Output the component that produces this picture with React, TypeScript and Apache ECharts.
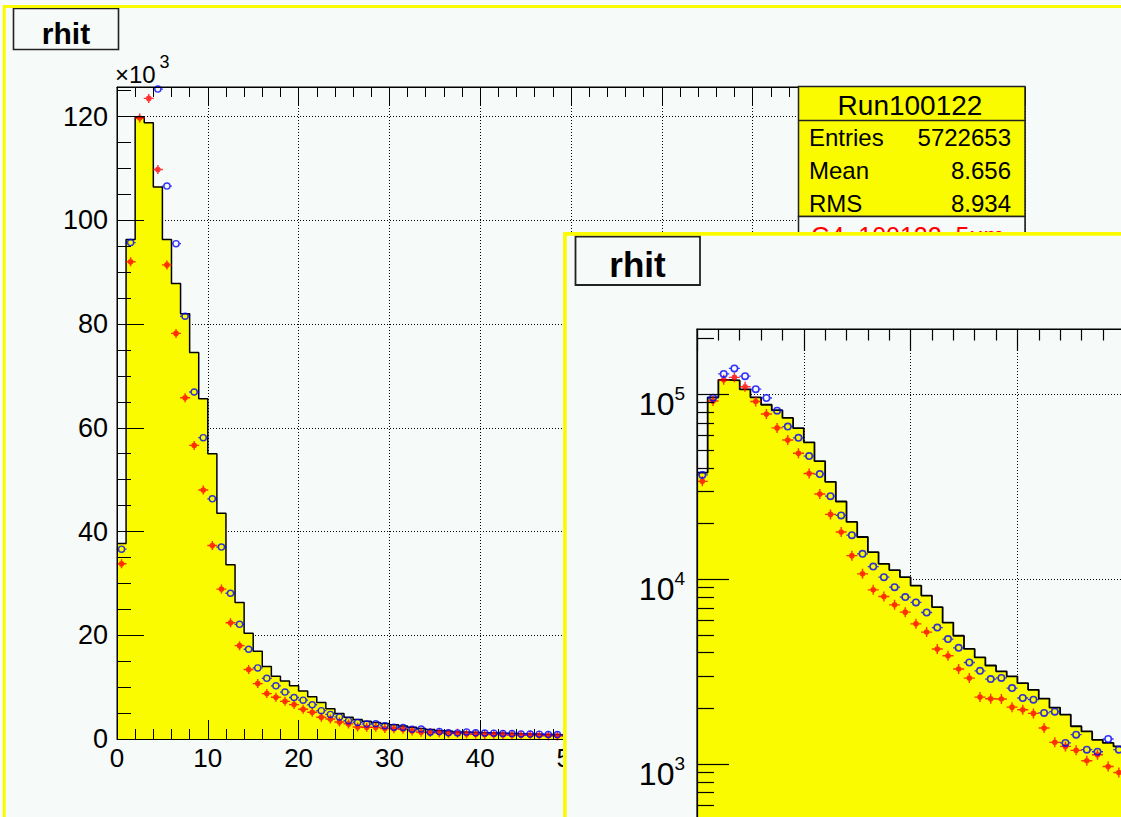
import React, { useEffect, useRef } from "react";
import * as echarts from "echarts";

// ---------- data (bins of width 1, starting at 0) ----------
const histCounts = [
  37700, 96300, 119800, 118800, 106400, 96300, 87800, 82000, 74500, 65600,
  55000, 43500, 33600, 26300, 20400, 16900, 14000, 12100, 11200, 10250,
  9230, 8150, 7060, 5820, 4940, 4190, 3770, 3410, 3170, 2980,
  2740, 2520, 2260, 2020, 1850, 1600, 1500, 1350, 1300, 1245,
  1190, 1140, 1090, 1040, 990, 950, 900, 860, 820, 780,
];
const g4RedCounts = [
  33800, 92000, 119700, 123500, 109800, 91400, 78200, 65800, 56600, 48000,
  37300, 28900, 22400, 18000, 13400, 10680, 8750, 8050, 7260, 6630,
  5730, 5170, 4190, 3850, 3265, 2915, 2300, 2253, 2245, 2030,
  1966, 1878, 1566, 1309, 1245, 1185, 1042, 1122, 970, 900,
  880, 850, 800, 780, 720, 700, 660, 640, 600, 580,
];
const g4BlueCounts = [
  36600, 95700, 128800, 138000, 125300, 106600, 95500, 81500, 66900, 58100,
  46300, 37000, 28100, 22100, 17300, 13700, 11700, 10250, 9050, 8000,
  7480, 6600, 5470, 4740, 4250, 3540, 3190, 2880, 2920, 2575,
  2275, 2227, 1888, 1918, 1300, 1440, 1195, 1165, 1365, 1195,
  1150, 1120, 1060, 1050, 980, 940, 930, 870, 860, 800,
];
const xMin = 0;
const xMax = 100;
const xInterval = 10;
const xLabelVisibleMax = 50; // labels further right sit under the inset canvas
const yLinMax = 125700;
const yLinInterval = 20000;
const yLogMin = 10;
const yLogMax = 225500;
const logMajorValues = [10, 100, 1000, 10000, 100000];
const logLabelValues = [1000, 10000, 100000];
const logMinorMultipliers = [2, 3, 4, 5, 6, 7, 8, 9];
const titleText = "rhit";
const statsTitle = "Run100122";
const statsRows = [
  ["Entries", "5722653"],
  ["Mean", "8.656"],
  ["RMS", "8.934"],
];
const legendLabel = "G4_100122_5um";

// ---------- style ----------
const FONT = '"Liberation Sans", Arimo, Helvetica, Arial, sans-serif';
const BG = "#f6faf8";
const YELLOW = "#fbfb00";
const RED = "#ff0000";
const BLUE = "#0000ff";
const DOT = { color: "#000", width: 1, type: [1, 2] as any };

const histData = () => {
  const d: number[][] = histCounts.map((v, i) => [i, v]);
  d.push([histCounts.length, histCounts[histCounts.length - 1]]);
  return d;
};
const pointData = (arr: number[]) => arr.map((v, i) => [i + 0.5, v]);

function crossPath(w: number, h: number, r: number, t: number) {
  const cx = w / 2, cy = h / 2;
  return (
    `path://M0 ${cy - t / 2} L${w} ${cy - t / 2} L${w} ${cy + t / 2} L0 ${cy + t / 2} Z ` +
    `M${cx - t / 2} 0 L${cx + t / 2} 0 L${cx + t / 2} ${h} L${cx - t / 2} ${h} Z ` +
    `M${cx - r} ${cy} A${r} ${r} 0 1 1 ${cx + r} ${cy} A${r} ${r} 0 1 1 ${cx - r} ${cy} Z`
  );
}
function ringPath(w: number, d: number, t: number, a: number) {
  const cx = w / 2, cy = d / 2, R = d / 2, r = d / 2 - t;
  return (
    `path://M${cx - R} ${cy} A${R} ${R} 0 1 1 ${cx + R} ${cy} A${R} ${R} 0 1 1 ${cx - R} ${cy} Z ` +
    `M${cx - r} ${cy} A${r} ${r} 0 1 0 ${cx + r} ${cy} A${r} ${r} 0 1 0 ${cx - r} ${cy} Z ` +
    `M0 ${cy - a / 2} L${cx - R + 0.4} ${cy - a / 2} L${cx - R + 0.4} ${cy + a / 2} L0 ${cy + a / 2} Z ` +
    `M${cx + R - 0.4} ${cy - a / 2} L${w} ${cy - a / 2} L${w} ${cy + a / 2} L${cx + R - 0.4} ${cy + a / 2} Z`
  );
}

function txt(text: string, x: number, y: number, font: string, fill: string, align = "left", z = 60) {
  return {
    type: "text",
    x,
    y,
    z,
    silent: true,
    style: {
      text,
      font,
      fill,
      align,
      textAlign: align,
      verticalAlign: "middle",
      textVerticalAlign: "middle",
    },
  };
}

function seriesList(redSize: number[], blueSize: number[], lineW: number, ringT: number) {
  return [
    {
      type: "line",
      xAxisIndex: 0,
      yAxisIndex: 0,
      data: histData(),
      step: "end",
      symbol: "none",
      silent: true,
      z: 2,
      lineStyle: { color: "#000", width: lineW },
      areaStyle: { color: YELLOW, opacity: 1, origin: "start" },
    },
    {
      type: "scatter",
      name: "G4 red",
      xAxisIndex: 0,
      yAxisIndex: 0,
      data: pointData(g4RedCounts),
      symbol: crossPath(redSize[0], redSize[1], 2.8, 1.4),
      symbolSize: redSize,
      itemStyle: { color: RED },
      z: 3,
    },
    {
      type: "scatter",
      name: "G4 blue",
      xAxisIndex: 0,
      yAxisIndex: 0,
      data: pointData(g4BlueCounts),
      symbol: ringPath(blueSize[0], blueSize[1], ringT, 1.3),
      symbolSize: blueSize,
      itemStyle: { color: BLUE },
      z: 4,
    },
  ];
}

function mainOption() {
  const xBase = { type: "value", gridIndex: 0, min: xMin, max: xMax, interval: xInterval };
  const yBase = { type: "value", gridIndex: 0, min: 0, max: yLinMax, interval: yLinInterval };
  const tickLine = { color: "#000", width: 1 };
  return {
    animation: false,
    backgroundColor: BG,
    textStyle: { fontFamily: FONT },
    grid: [{ left: 117, top: 87, width: 908, height: 652, show: true, borderColor: "#000", borderWidth: 1, backgroundColor: "transparent" }],
    xAxis: [
      { ...xBase, z: 0, position: "bottom", axisLine: { show: false }, axisTick: { show: false }, axisLabel: { show: false }, splitLine: { show: true, lineStyle: DOT } },
      {
        ...xBase, z: 10, position: "bottom",
        axisLine: { show: true, onZero: false, lineStyle: tickLine },
        axisTick: { show: true, inside: true, length: 19, lineStyle: tickLine },
        minorTick: { show: true, splitNumber: 5, length: 10, lineStyle: tickLine },
        axisLabel: {
          show: true, fontSize: 26, color: "#000", fontFamily: FONT, margin: 6,
          formatter: (v: number) => (v <= xLabelVisibleMax ? String(v) : ""),
        },
        splitLine: { show: false },
      },
      {
        ...xBase, z: 10, position: "top",
        axisLine: { show: true, onZero: false, lineStyle: tickLine },
        axisTick: { show: true, inside: true, length: 19, lineStyle: tickLine },
        minorTick: { show: true, splitNumber: 5, length: 10, lineStyle: tickLine },
        axisLabel: { show: false },
        splitLine: { show: false },
      },
    ],
    yAxis: [
      { ...yBase, z: 0, position: "left", axisLine: { show: false }, axisTick: { show: false }, axisLabel: { show: false }, splitLine: { show: true, lineStyle: DOT } },
      {
        ...yBase, z: 10, position: "left",
        axisLine: { show: true, onZero: false, lineStyle: tickLine },
        axisTick: { show: true, inside: true, length: 27, lineStyle: tickLine },
        minorTick: { show: true, splitNumber: 4, length: 14, lineStyle: tickLine },
        axisLabel: {
          show: true, fontSize: 27, color: "#000", fontFamily: FONT, margin: 9, padding: [7, 0, 0, 0],
          showMaxLabel: false,
          formatter: (v: number) => (v % yLinInterval === 0 ? String(v / 1000) : ""),
        },
        splitLine: { show: false },
      },
    ],
    series: seriesList([10, 9], [10, 7.5], 1.5, 1.4),
    graphic: [
      { type: "rect", z: 100, silent: true, shape: { x: 4.2, y: 6.6, width: 1137, height: 812 }, style: { fill: "none", stroke: YELLOW, lineWidth: 3 } },
      { type: "rect", z: 50, silent: true, shape: { x: 13.5, y: 8.5, width: 105, height: 41 }, style: { fill: BG, stroke: "#222", lineWidth: 1.6 } },
      txt(titleText, 66, 33, `bold 30px ${FONT}`, "#000", "center"),
      txt("\u00d710", 115, 74, `24px ${FONT}`, "#000", "left"),
      txt("3", 159.5, 62, `18px ${FONT}`, "#000", "left"),
      // stats box
      { type: "rect", z: 50, silent: true, shape: { x: 798.5, y: 86.5, width: 226.5, height: 130 }, style: { fill: YELLOW, stroke: "#222", lineWidth: 1.5 } },
      { type: "line", z: 51, silent: true, shape: { x1: 798.5, y1: 120.5, x2: 1025, y2: 120.5 }, style: { stroke: "#222", lineWidth: 1.5 } },
      { type: "rect", z: 50, silent: true, shape: { x: 798.5, y: 216.5, width: 226.5, height: 110 }, style: { fill: BG, stroke: "#222", lineWidth: 1.5 } },
      txt(statsTitle, 910, 105, `28px ${FONT}`, "#000", "center"),
      ...statsRows.flatMap((r, i) => [
        txt(r[0], 809, 137 + i * 33, `24px ${FONT}`, "#000", "left"),
        txt(r[1], 1011, 137 + i * 33, `24px ${FONT}`, "#000", "right"),
      ]),
      txt(legendLabel, 811, 236, `25px ${FONT}`, RED, "left"),
    ],
  };
}

function insetOption() {
  const xBase = { type: "value", gridIndex: 0, min: xMin, max: xMax, interval: xInterval };
  const yBase = { type: "log", logBase: 10, gridIndex: 0, min: yLogMin, max: yLogMax };
  const tickLine = { color: "#000", width: 1.2 };
  const minorVals: number[] = [];
  logMajorValues.forEach((m) => logMinorMultipliers.forEach((k) => {
    const v = m * k;
    if (v < yLogMax) minorVals.push(v);
  }));
  return {
    animation: false,
    backgroundColor: BG,
    textStyle: { fontFamily: FONT },
    grid: [{ left: 134, top: 97, width: 1068, height: 804.7, show: true, borderColor: "#000", borderWidth: 1.2, backgroundColor: "transparent" }],
    xAxis: [
      { ...xBase, z: 0, position: "bottom", axisLine: { show: false }, axisTick: { show: false }, axisLabel: { show: false }, splitLine: { show: true, lineStyle: DOT } },
      {
        ...xBase, z: 10, position: "top",
        axisLine: { show: true, onZero: false, lineStyle: tickLine },
        axisTick: { show: true, inside: true, length: 22, lineStyle: tickLine },
        minorTick: { show: true, splitNumber: 5, length: 11.5, lineStyle: tickLine },
        axisLabel: { show: false },
        splitLine: { show: false },
      },
    ],
    yAxis: [
      { ...yBase, z: 0, position: "left", axisLine: { show: false }, axisTick: { show: false }, axisLabel: { show: false }, splitLine: { show: true, lineStyle: DOT } },
      {
        ...yBase, z: 10, position: "left",
        axisLine: { show: true, onZero: false, lineStyle: tickLine },
        axisTick: { show: true, inside: true, length: 32, lineStyle: tickLine, customValues: logMajorValues },
        axisLabel: {
          show: true, margin: 12, customValues: logLabelValues, padding: [16, 0, 0, 0],
          formatter: (v: number) => `{b|10}{s|${Math.round(Math.log10(v))}}`,
          rich: {
            b: { fontSize: 32, fontFamily: FONT, color: "#000", lineHeight: 36, verticalAlign: "bottom" },
            s: { fontSize: 19, fontFamily: FONT, color: "#000", lineHeight: 19, verticalAlign: "top" },
          },
        },
        splitLine: { show: false },
      },
      {
        ...yBase, z: 10, position: "left",
        axisLine: { show: false, onZero: false },
        axisTick: { show: true, inside: true, length: 17, lineStyle: tickLine, customValues: minorVals },
        axisLabel: { show: false },
        splitLine: { show: false },
      },
    ],
    series: seriesList([11, 10], [11, 8], 1.8, 1.6),
    graphic: [
      { type: "rect", z: 100, silent: true, shape: { x: 1.9, y: 1.9, width: 1400, height: 1000 }, style: { fill: "none", stroke: YELLOW, lineWidth: 3.6 } },
      { type: "rect", z: 50, silent: true, shape: { x: 12.5, y: 4.5, width: 124.5, height: 48.5 }, style: { fill: BG, stroke: "#222", lineWidth: 1.8 } },
      txt(titleText, 74.5, 32.5, `bold 35px ${FONT}`, "#000", "center"),
    ],
  };
}

export default function App() {
  const mainRef = useRef<HTMLDivElement>(null);
  const insetRef = useRef<HTMLDivElement>(null);
  useEffect(() => {
    const main = echarts.init(mainRef.current as HTMLDivElement, null, { renderer: "svg" });
    main.setOption(mainOption() as any);
    const inset = echarts.init(insetRef.current as HTMLDivElement, null, { renderer: "svg" });
    inset.setOption(insetOption() as any);
    return () => {
      main.dispose();
      inset.dispose();
    };
  }, []);
  return (
    <div style={{ position: "fixed", left: 0, top: 0, width: 1121, height: 817, overflow: "hidden", background: BG }}>
      <div ref={mainRef} style={{ position: "absolute", left: 0, top: 0, width: 1121, height: 817 }} />
      <div ref={insetRef} style={{ position: "absolute", left: 563, top: 232, width: 1345, height: 968, background: BG }} />
    </div>
  );
}
